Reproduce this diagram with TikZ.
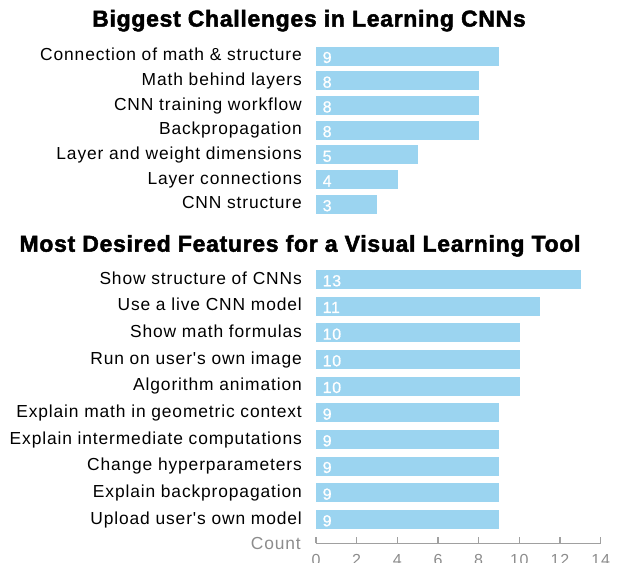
\documentclass[tikz,border=0pt]{standalone}
\usepackage{fontspec}
\setmainfont{Liberation Sans}
\newfontfamily\titlefont[FakeBold=2,LetterSpace=3]{Liberation Sans Bold}
\newfontfamily\labfont[LetterSpace=5]{Liberation Sans}
\newfontfamily\numfont[LetterSpace=4,FakeBold=0.8]{Liberation Sans}
\definecolor{barblue}{HTML}{9BD4F0}
\definecolor{axisgray}{HTML}{A0A0A0}
\definecolor{countgray}{HTML}{8C8C8C}
\tikzset{
  bar/.style={fill=barblue, draw=none, inner sep=0pt, minimum height=19bp, anchor=west},
  lab/.style={anchor=base east, inner sep=0pt, font=\labfont\fontsize{17.4bp}{20bp}\selectfont, text=black},
  num/.style={anchor=base west, inner sep=0pt, font=\numfont\fontsize{16bp}{19bp}\selectfont, text=white},
  ttl/.style={inner sep=0pt, font=\titlefont\fontsize{23bp}{27bp}\selectfont, text=black},
  tick/.style={draw=axisgray, line width=1.4bp},
  ticklab/.style={anchor=base, inner sep=0pt, font=\labfont\fontsize{16bp}{19bp}\selectfont, text=countgray}
}
\begin{document}
\begin{tikzpicture}[x=1bp, y=-1bp]
\useasboundingbox (0,0) rectangle (618,563);
% titles
\node[ttl] (title1) at (309,20.7) {Biggest Challenges in Learning CNNs};
\node[ttl] (title2) at (300,245.8) {Most Desired Features for a Visual Learning Tool};
% top chart
\foreach \t/\v [count=\i from 0] in {Connection of math \& structure/9, Math behind layers/8, CNN training workflow/8, Backpropagation/8, Layer and weight dimensions/5, Layer connections/4, CNN structure/3}{
  \pgfmathsetmacro\yc{56.2+24.7*\i}
  \node[bar, minimum width=\v*20.33bp] (tb\i) at (316,\yc) {};
  \node[lab] (tl\i) at (302,\yc+4.5) {\t};
  \node[num] (tn\i) at (322.5,\yc+6.8) {\v};
}
% bottom chart
\foreach \t/\v [count=\i from 0] in {Show structure of CNNs/13, Use a live CNN model/11, Show math formulas/10, Run on user's own image/10, Algorithm animation/10, Explain math in geometric context/9, Explain intermediate computations/9, Change hyperparameters/9, Explain backpropagation/9, Upload user's own model/9}{
  \pgfmathsetmacro\yc{279.5+26.67*\i}
  \node[bar, minimum width=\v*20.33bp] (bb\i) at (316,\yc) {};
  \node[lab] (bl\i) at (302,\yc+4.5) {\t};
  \node[num] (bn\i) at (322.5,\yc+6.8) {\v};
}
% axis
\coordinate (ax0) at (316,543.3);
\coordinate (ax14) at (600.6,543.3);
\draw[tick] (ax0) -- (ax14);
\foreach \k in {0,2,...,14}{
  \coordinate (tk\k) at (316+\k*20.33,543.3);
  \draw[tick] (tk\k) -- ++(0,-6.5);
  \node[ticklab] (tkl\k) at (316+\k*20.33,565.5) {\k};
}
\node[ticklab, anchor=base east, font=\labfont\fontsize{17.4bp}{20bp}\selectfont] (count) at (301,549.3) {Count};
\end{tikzpicture}
\end{document}
